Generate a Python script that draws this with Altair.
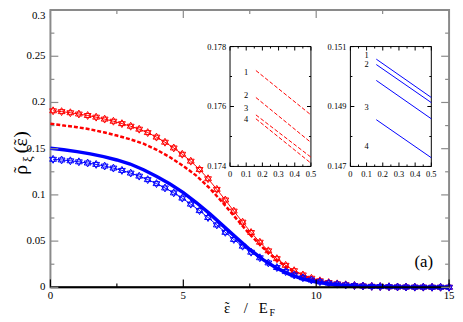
import altair as alt
import pandas as pd

# ---------------- data ----------------
X_STAR = [0.10, 0.42, 0.75, 1.07, 1.40, 1.72, 2.04, 2.37, 2.69, 3.02, 3.34, 3.66,
          3.99, 4.31, 4.64, 4.96, 5.28, 5.61, 5.93, 6.26, 6.58, 6.90, 7.23, 7.55,
          7.88, 8.20, 8.52, 8.85, 9.17, 9.50, 9.82, 10.14, 10.47, 10.79, 11.11,
          11.44, 11.76, 12.09, 12.41, 12.74, 13.06, 13.38, 13.71, 14.03, 14.36,
          14.68, 15.00]
RED_STAR = [0.1910, 0.1901, 0.1889, 0.1875, 0.1859, 0.1841, 0.1820, 0.1797, 0.1771,
            0.1743, 0.1711, 0.1674, 0.1625, 0.1570, 0.1508, 0.1440, 0.1365, 0.1275,
            0.1175, 0.1060, 0.0945, 0.0825, 0.0705, 0.0593, 0.0488, 0.0395, 0.0310,
            0.0238, 0.0180, 0.0134, 0.0098, 0.0071, 0.0052, 0.0038, 0.0028, 0.0020,
            0.0015, 0.0011, 0.0008, 0.0006, 0.0004, 0.0003, 0.0002, 0.0002, 0.0001,
            0.0001, 0.0001]
BLUE_STAR = [0.1385, 0.1378, 0.1369, 0.1358, 0.1345, 0.1330, 0.1312, 0.1290, 0.1265,
             0.1236, 0.1203, 0.1165, 0.1122, 0.1075, 0.1022, 0.0965, 0.0900, 0.0830,
             0.0755, 0.0675, 0.0595, 0.0518, 0.0445, 0.0380, 0.0320, 0.0264, 0.0214,
             0.0170, 0.0133, 0.0103, 0.0079, 0.0060, 0.0045, 0.0034, 0.0025, 0.0019,
             0.0014, 0.0010, 0.0008, 0.0006, 0.0004, 0.0003, 0.0002, 0.0002, 0.0001,
             0.0001, 0.0001]
X_LINE = [0.0, 0.5, 1.0, 1.5, 2.0, 2.5, 3.0, 3.5, 4.0, 4.5, 5.0, 5.5, 6.0, 6.5, 7.0,
          7.5, 8.0, 8.5, 9.0, 9.5, 10.0, 10.5, 11.0, 11.5, 12.0, 12.5, 13.0, 13.5,
          14.0, 14.5, 15.0]
RED_DASH = [0.1770, 0.1750, 0.1733, 0.1709, 0.1678, 0.1642, 0.1602, 0.1554, 0.1488,
            0.1407, 0.1313, 0.1206, 0.1070, 0.0911, 0.0741, 0.0574, 0.0428, 0.0296,
            0.0195, 0.0126, 0.0076, 0.0047, 0.0029, 0.0018, 0.0011, 0.0007, 0.0004,
            0.0003, 0.0002, 0.0001, 0.0001]
BLUE_SOLID = [0.1505, 0.1488, 0.1468, 0.1444, 0.1414, 0.1378, 0.1334, 0.1272, 0.1200,
              0.1118, 0.1025, 0.0915, 0.0795, 0.0665, 0.0535, 0.0410, 0.0300, 0.0210,
              0.0140, 0.0090, 0.0057, 0.0036, 0.0022, 0.0014, 0.0009, 0.0006, 0.0004,
              0.0002, 0.0002, 0.0001, 0.0001]

MAIN_X_MAJOR = [0, 5, 10, 15]
MAIN_X_MINOR = [2.5, 7.5, 12.5]
MAIN_Y_MAJOR = [0, 0.05, 0.1, 0.15, 0.2, 0.25, 0.3]
MAIN_Y_MINOR = [0.025, 0.075, 0.125, 0.175, 0.225, 0.275]

INSET_X = [0.16, 0.5]
CURVE_IDS = ["1", "2", "3", "4"]
RED_INSET = [[0.17720, 0.17572], [0.17630, 0.17480], [0.17572, 0.17431], [0.17559, 0.17411]]
BLUE_INSET = [[0.15058, 0.14930], [0.15040, 0.14913], [0.14987, 0.14859], [0.14856, 0.14729]]
LABEL_X = 0.10
RED_LABEL_Y = [0.17716, 0.17639, 0.17594, 0.17557]
BLUE_LABEL_Y = [0.15071, 0.15042, 0.14898, 0.14767]
INSET_X_MAJOR = [0, 0.1, 0.2, 0.3, 0.4, 0.5]
INSET_X_MINOR = [0.05, 0.15, 0.25, 0.35, 0.45]
RED_Y_MAJOR = [0.174, 0.176, 0.178]
RED_Y_MINOR = [0.175, 0.177]
BLUE_Y_MAJOR = [0.147, 0.149, 0.151]
BLUE_Y_MINOR = [0.148, 0.150]

PANEL_LABEL = "(a)"
PANEL_LABEL_POS = (14.05, 0.0275)

# ---------------- style ----------------
FONT = "Liberation Serif, Times New Roman, serif"
RED = "#ff0000"
BLUE = "#0000ff"
GRAY = "#8a8a8a"
HEXAGRAM = "M0,-1L0.866,0.5L-0.866,0.5Z M0,1L0.866,-0.5L-0.866,-0.5Z"
TILDE = "\u02dc"
W, H = 404, 281

xs = alt.Scale(domain=[0, 15], nice=False, zero=False)
ys = alt.Scale(domain=[0, 0.3], nice=False, zero=False)


def tick_layer(vals, side, length, xscale, yscale, edge, color, width=1.0):
    df = pd.DataFrame({"v": vals})
    if side in ("bottom", "top"):
        off = -length / 2 if side == "bottom" else length / 2
        return alt.Chart(df).mark_tick(orient="vertical", size=length, thickness=width,
                                       color=color, yOffset=off, opacity=1).encode(
            x=alt.X("v:Q", scale=xscale, axis=None),
            y=alt.YDatum(edge, type="quantitative", scale=yscale, axis=None))
    off = length / 2 if side == "left" else -length / 2
    return alt.Chart(df).mark_tick(orient="horizontal", size=length, thickness=width,
                                   color=color, xOffset=off, opacity=1).encode(
        x=alt.XDatum(edge, type="quantitative", scale=xscale, axis=None),
        y=alt.Y("v:Q", scale=yscale, axis=None))


def frame_ticks(xmaj, xmin, ymaj, ymin, xscale, yscale, xdom, ydom, Lmaj, Lmin, colors, width):
    cb, cs = colors
    return [
        tick_layer(xmaj, "bottom", Lmaj, xscale, yscale, ydom[0], cb, width),
        tick_layer(xmin, "bottom", Lmin, xscale, yscale, ydom[0], cb, width),
        tick_layer(xmaj, "top", Lmaj, xscale, yscale, ydom[1], cs, width),
        tick_layer(xmin, "top", Lmin, xscale, yscale, ydom[1], cs, width),
        tick_layer(ymaj, "left", Lmaj, xscale, yscale, xdom[0], cs, width),
        tick_layer(ymin, "left", Lmin, xscale, yscale, xdom[0], cs, width),
        tick_layer(ymaj, "right", Lmaj, xscale, yscale, xdom[1], cs, width),
        tick_layer(ymin, "right", Lmin, xscale, yscale, xdom[1], cs, width),
    ]


def x_tick_labels(vals, xscale, yscale, yedge, size, dy):
    df = pd.DataFrame({"v": vals})
    return alt.Chart(df).mark_text(font=FONT, fontSize=size, color="black", align="center",
                                   baseline="middle", dy=dy).encode(
        x=alt.X("v:Q", scale=xscale, axis=None),
        y=alt.YDatum(yedge, type="quantitative", scale=yscale, axis=None),
        text=alt.Text("v:Q", format="~g"))


def y_tick_labels(vals, xscale, yscale, xedge, size, dx, baseline="middle"):
    df = pd.DataFrame({"v": vals})
    return alt.Chart(df).mark_text(font=FONT, fontSize=size, color="black", align="right",
                                   baseline=baseline, dx=dx).encode(
        x=alt.XDatum(xedge, type="quantitative", scale=xscale, axis=None),
        y=alt.Y("v:Q", scale=yscale, axis=None),
        text=alt.Text("v:Q", format="~g"))


def label_piece(text, size, px, py, angle=0, align="left"):
    tdf = pd.DataFrame({"a": [0]})
    kw = {"angle": angle} if angle else {}
    return alt.Chart(tdf).mark_text(text=text, font=FONT, fontSize=size, align=align,
                                    baseline="alphabetic", color="black", **kw).encode(
        x=alt.value(px), y=alt.value(py))


# ---------------- main panel ----------------
frame_df = pd.DataFrame({"x0": [0], "x1": [15], "y0": [0], "y1": [0.3]})
frame = alt.Chart(frame_df).mark_rect(fillOpacity=0, stroke=GRAY, strokeWidth=2).encode(
    x=alt.X("x0:Q", scale=xs, axis=None), x2="x1:Q",
    y=alt.Y("y0:Q", scale=ys, axis=None), y2="y1:Q")
zero_line = alt.Chart(frame_df).mark_rule(color="black", strokeWidth=2).encode(
    x=alt.X("x0:Q", scale=xs, axis=None), x2="x1:Q",
    y=alt.Y("y0:Q", scale=ys, axis=None))

star_df = pd.DataFrame({"x": X_STAR, "red": RED_STAR, "blue": BLUE_STAR})
line_df = pd.DataFrame({"x": X_LINE, "red": RED_DASH, "blue": BLUE_SOLID})


def xenc():
    return alt.X("x:Q", scale=xs, axis=None)


red_dash = alt.Chart(line_df).mark_line(color=RED, strokeWidth=2.5, strokeDash=[4, 2]).encode(
    x=xenc(), y=alt.Y("red:Q", scale=ys, axis=None))
blue_solid = alt.Chart(line_df).mark_line(color=BLUE, strokeWidth=3.5).encode(
    x=xenc(), y=alt.Y("blue:Q", scale=ys, axis=None))
red_star_line = alt.Chart(star_df).mark_line(color=RED, strokeWidth=1).encode(
    x=xenc(), y=alt.Y("red:Q", scale=ys, axis=None))
red_star_pts = alt.Chart(star_df).mark_point(shape=HEXAGRAM, size=64, filled=False, color=RED,
                                             strokeWidth=1, opacity=1).encode(
    x=xenc(), y=alt.Y("red:Q", scale=ys, axis=None))
blue_star_line = alt.Chart(star_df).mark_line(color=BLUE, strokeWidth=1).encode(
    x=xenc(), y=alt.Y("blue:Q", scale=ys, axis=None))
blue_star_pts = alt.Chart(star_df).mark_point(shape=HEXAGRAM, size=64, filled=False, color=BLUE,
                                              strokeWidth=1, opacity=1).encode(
    x=xenc(), y=alt.Y("blue:Q", scale=ys, axis=None))

panel_df = pd.DataFrame({"x": [PANEL_LABEL_POS[0]], "y": [PANEL_LABEL_POS[1]], "t": [PANEL_LABEL]})
panel_text = alt.Chart(panel_df).mark_text(font=FONT, fontSize=17, color="black",
                                           align="center", baseline="middle").encode(
    x=xenc(), y=alt.Y("y:Q", scale=ys, axis=None), text="t:N")

# axis titles, composed from pieces so that the subscripts and tildes can be placed
titles = [
    # y title: rho~ _xi ( eps~ )
    label_piece("\u03c1", 20, -24, 162, angle=270, align="center"),
    label_piece(TILDE, 17, -25.5, 162, angle=270, align="center"),
    label_piece("\u03be", 13, -19, 154, angle=270),
    label_piece("(", 20, -24, 145, angle=270),
    label_piece("\u03b5", 20, -24, 134, angle=270, align="center"),
    label_piece(TILDE, 17, -25.5, 134, angle=270, align="center"),
    label_piece(")", 20, -24, 129.5, angle=270),
    # x title: eps~ / E_F
    label_piece("\u03b5", 15, 179, 307, align="center"),
    label_piece(TILDE, 14, 179, 306, align="center"),
    label_piece("/", 15, 198, 307, align="center"),
    label_piece("E", 15, 211, 307),
    label_piece("F", 10, 222, 310),
]

main_layers = [frame, red_dash, red_star_line, red_star_pts, blue_solid,
               blue_star_line, blue_star_pts, zero_line, panel_text,
               x_tick_labels(MAIN_X_MAJOR, xs, ys, 0, 11, 9),
               y_tick_labels(MAIN_Y_MAJOR[:-1], xs, ys, 0, 11, -5),
               y_tick_labels(MAIN_Y_MAJOR[-1:], xs, ys, 0, 11, -5, baseline="top")]
main_layers += titles
main_layers += frame_ticks(MAIN_X_MAJOR, MAIN_X_MINOR, MAIN_Y_MAJOR, MAIN_Y_MINOR, xs, ys,
                           [0, 15], [0, 0.3], 8, 4, ("black", GRAY), 1.2)
main = alt.layer(*main_layers)


# ---------------- insets ----------------
def inset(values, label_y, ymaj, ymin, xrange, color, dash):
    ydom = [ymaj[0], ymaj[-1]]
    ixs = alt.Scale(domain=[0, 0.5], range=xrange, nice=False, zero=False)
    iys = alt.Scale(domain=ydom, range=[158.5, 37], nice=False, zero=False)
    fdf = pd.DataFrame({"x0": [0], "x1": [0.5], "y0": [ydom[0]], "y1": [ydom[1]]})
    box = alt.Chart(fdf).mark_rect(fill="white", stroke="black", strokeWidth=1).encode(
        x=alt.X("x0:Q", scale=ixs, axis=None), x2="x1:Q",
        y=alt.Y("y0:Q", scale=iys, axis=None), y2="y1:Q")
    rows = []
    for cid, (y0, y1) in zip(CURVE_IDS, values):
        rows.append({"id": cid, "x": INSET_X[0], "y": y0})
        rows.append({"id": cid, "x": INSET_X[1], "y": y1})
    ldf = pd.DataFrame(rows)
    kw = {"strokeDash": [4, 2]} if dash else {}
    lines = alt.Chart(ldf).mark_line(color=color, strokeWidth=1, **kw).encode(
        x=alt.X("x:Q", scale=ixs, axis=None), y=alt.Y("y:Q", scale=iys, axis=None),
        detail="id:N")
    tdf2 = pd.DataFrame({"id": CURVE_IDS, "x": [LABEL_X] * 4, "y": label_y})
    labels = alt.Chart(tdf2).mark_text(font=FONT, fontSize=8.5, color="black",
                                       align="center", baseline="middle").encode(
        x=alt.X("x:Q", scale=ixs, axis=None), y=alt.Y("y:Q", scale=iys, axis=None), text="id:N")
    layers = [box, lines, labels,
              x_tick_labels(INSET_X_MAJOR, ixs, iys, ydom[0], 8.5, 8),
              y_tick_labels(ymaj, ixs, iys, 0, 8.5, -4)]
    layers += frame_ticks(INSET_X_MAJOR, INSET_X_MINOR, ymaj, ymin, ixs, iys,
                          [0, 0.5], ydom, 4, 2, ("black", "black"), 1)
    return alt.layer(*layers)


inset_red = inset(RED_INSET, RED_LABEL_Y, RED_Y_MAJOR, RED_Y_MINOR, [182, 264], RED, True)
inset_blue = inset(BLUE_INSET, BLUE_LABEL_Y, BLUE_Y_MAJOR, BLUE_Y_MINOR, [304, 386], BLUE, False)

chart = alt.layer(main, inset_red, inset_blue).resolve_scale(
    x="independent", y="independent").properties(
    width=W, height=H,
    padding={"left": 43, "top": 0, "right": 6, "bottom": 28},
    autosize=alt.AutoSizeParams(type="none"),
    background="white",
).configure_view(stroke="transparent")

chart.save("out.html", embed_options={"renderer": "svg", "actions": False})
